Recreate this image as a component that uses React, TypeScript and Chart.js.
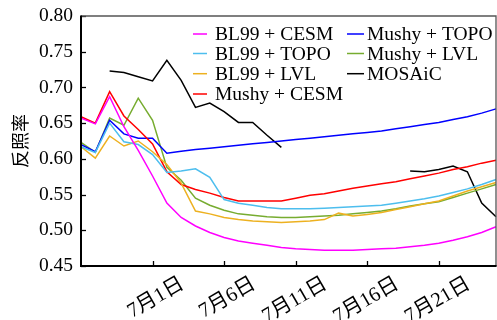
import React, { useEffect, useRef } from "react";
import { Chart, registerables } from "chart.js";

Chart.register(...registerables);

const dates = [
  "6月26日", "6月27日", "6月28日", "6月29日", "6月30日",
  "7月1日", "7月2日", "7月3日", "7月4日", "7月5日",
  "7月6日", "7月7日", "7月8日", "7月9日", "7月10日",
  "7月11日", "7月12日", "7月13日", "7月14日", "7月15日",
  "7月16日", "7月17日", "7月18日", "7月19日", "7月20日",
  "7月21日", "7月22日", "7月23日", "7月24日", "7月25日",
];

const bl99Cesm = [0.657, 0.649, 0.687, 0.645, 0.612, 0.576, 0.538, 0.518, 0.506, 0.497, 0.490, 0.485, 0.482, 0.479, 0.476, 0.474, 0.473, 0.472, 0.472, 0.472, 0.473, 0.474, 0.475, 0.477, 0.479, 0.482, 0.486, 0.491, 0.497, 0.505];
const bl99Topo = [0.617, 0.609, 0.650, 0.624, 0.620, 0.606, 0.581, 0.583, 0.586, 0.574, 0.543, 0.538, 0.535, 0.532, 0.530, 0.530, 0.530, 0.531, 0.532, 0.533, 0.534, 0.535, 0.538, 0.541, 0.544, 0.548, 0.553, 0.558, 0.564, 0.571];
const bl99Lvl = [0.617, 0.601, 0.632, 0.618, 0.625, 0.610, 0.592, 0.566, 0.527, 0.523, 0.518, 0.515, 0.513, 0.512, 0.511, 0.512, 0.513, 0.515, 0.524, 0.520, 0.522, 0.525, 0.529, 0.533, 0.537, 0.541, 0.548, 0.555, 0.561, 0.567];
const mushyCesm = [0.659, 0.650, 0.694, 0.660, 0.641, 0.621, 0.582, 0.564, 0.557, 0.552, 0.546, 0.541, 0.541, 0.541, 0.541, 0.545, 0.549, 0.551, 0.555, 0.559, 0.562, 0.565, 0.568, 0.572, 0.576, 0.580, 0.585, 0.589, 0.594, 0.598];
const mushyTopo = [0.620, 0.610, 0.654, 0.635, 0.629, 0.629, 0.608, 0.6105, 0.613, 0.615, 0.617, 0.619, 0.621, 0.623, 0.625, 0.627, 0.629, 0.631, 0.633, 0.635, 0.637, 0.639, 0.642, 0.645, 0.648, 0.651, 0.655, 0.659, 0.664, 0.670];
const mushyLvl = [0.623, 0.609, 0.657, 0.647, 0.685, 0.654, 0.588, 0.570, 0.545, 0.535, 0.528, 0.523, 0.521, 0.519, 0.518, 0.518, 0.519, 0.520, 0.521, 0.523, 0.525, 0.527, 0.530, 0.534, 0.537, 0.540, 0.546, 0.552, 0.558, 0.564];
const mosaic = [null, null, 0.723, 0.721, 0.715, 0.709, 0.738, 0.710, 0.672, 0.678, 0.666, 0.651, 0.651, 0.633, 0.616, null, null, null, null, null, null, null, null, 0.583, 0.582, 0.585, 0.590, 0.582, 0.538, 0.519];

const seriesNames = ["BL99 + CESM", "BL99 + TOPO", "BL99 + LVL", "Mushy + CESM", "Mushy + TOPO", "Mushy + LVL", "MOSAiC"];
const seriesColors = ["#FF00FF", "#4DBEEE", "#EDB120", "#FF0000", "#0000FF", "#77AC30", "#000000"];
const seriesData = [bl99Cesm, bl99Topo, bl99Lvl, mushyCesm, mushyTopo, mushyLvl, mosaic];

const yTicks = [0.45, 0.5, 0.55, 0.6, 0.65, 0.7, 0.75, 0.8];
const labeledIdx = [5, 10, 15, 20, 25];

const SERIF = "'Liberation Serif', 'Times New Roman', 'Noto Sans CJK SC', serif";

const framePlugin = {
  id: "frameAndLegend",
  afterDraw(chart: any) {
    const { ctx, chartArea: a, scales } = chart;
    ctx.save();
    ctx.strokeStyle = "#000";
    ctx.lineWidth = 1.3;
    const ys = scales.y;
    yTicks.forEach((v) => {
      const py = Math.round(ys.getPixelForValue(v)) + 0.5;
      ctx.beginPath();
      ctx.moveTo(a.left, py);
      ctx.lineTo(a.left + 5, py);
      ctx.stroke();
    });
    const xs = scales.x;
    labeledIdx.forEach((i) => {
      const px = Math.round(xs.getPixelForValue(i)) + 0.5;
      ctx.beginPath();
      ctx.moveTo(px, a.bottom);
      ctx.lineTo(px, a.bottom - 5);
      ctx.stroke();
    });
    ctx.strokeStyle = "#555";
    ctx.lineWidth = 1.3;
    ctx.beginPath();
    ctx.moveTo(a.left, a.top);
    ctx.lineTo(a.right, a.top);
    ctx.lineTo(a.right, a.bottom);
    ctx.stroke();
    ctx.strokeStyle = "#000";
    ctx.lineWidth = 2;
    ctx.beginPath();
    ctx.moveTo(a.left, a.top - 0.6);
    ctx.lineTo(a.left, a.bottom);
    ctx.lineTo(a.right + 0.6, a.bottom);
    ctx.stroke();

    ctx.font = "19.5px " + SERIF;
    ctx.textBaseline = "middle";
    ctx.textAlign = "left";
    const rowY = [18, 37.5, 57.7, 78];
    const cols = [
      { sx: a.right - 303, ex: a.right - 289, tx: a.right - 281 },
      { sx: a.right - 149, ex: a.right - 132, tx: a.right - 129 },
    ];
    seriesNames.forEach((name, k) => {
      const c = cols[k < 4 ? 0 : 1];
      const r = k < 4 ? k : k - 4;
      const y = a.top + rowY[r];
      ctx.strokeStyle = seriesColors[k];
      ctx.lineWidth = 1.5;
      ctx.beginPath();
      ctx.moveTo(c.sx, y);
      ctx.lineTo(c.ex, y);
      ctx.stroke();
      ctx.fillStyle = "#000";
      ctx.fillText(name, c.tx, y + 1);
    });
    ctx.restore();
  },
};

export default function App() {
  const ref = useRef<HTMLCanvasElement>(null);
  useEffect(() => {
    if (!ref.current) return;
    const chart = new Chart(ref.current, {
      type: "line",
      data: {
        labels: dates,
        datasets: seriesNames.map((name, k) => ({
          label: name,
          data: seriesData[k],
          borderColor: seriesColors[k],
          backgroundColor: seriesColors[k],
          borderWidth: 1.5,
          pointRadius: 0,
          tension: 0,
          spanGaps: false,
          fill: false,
        })),
      },
      options: {
        responsive: false,
        animation: false,
        layout: { padding: { left: 0, top: 16, right: 1, bottom: 0 } },
        plugins: { legend: { display: false }, tooltip: { enabled: false } },
        scales: {
          x: {
            type: "category",
            offset: false,
            grid: { display: false, drawTicks: false },
            border: { display: false },
            afterFit: (s: any) => {
              s.height = 54;
              s.paddingLeft = 0;
              s.paddingRight = 0;
            },
            ticks: {
              autoSkip: false,
              minRotation: 30,
              maxRotation: 30,
              padding: 6,
              labelOffset: 30,
              color: "#000",
              font: { family: SERIF, size: 20.5 },
              callback: (_v: any, i: number) => (labeledIdx.includes(i) ? dates[i] : ""),
            },
          },
          y: {
            min: 0.45,
            max: 0.8,
            grid: { display: false, drawTicks: false },
            border: { display: false },
            afterFit: (s: any) => {
              s.width = 81;
              s.paddingTop = 0;
              s.paddingBottom = 0;
            },
            afterBuildTicks: (s: any) => { s.ticks = yTicks.map((v) => ({ value: v })); },
            ticks: {
              padding: 8,
              color: "#000",
              font: { family: SERIF, size: 19.5 },
              callback: (v: any) => Number(v).toFixed(2),
            },
            title: {
              display: true,
              text: "反照率",
              color: "#000",
              padding: { top: 9, bottom: 0 },
              font: { family: "'Noto Sans CJK SC', sans-serif", size: 18 },
            },
          },
        },
      },
      plugins: [framePlugin],
    });
    return () => chart.destroy();
  }, []);
  return (
    <div style={{ position: "absolute", left: 0, top: 0, width: 497, height: 320, background: "#fff" }}>
      <canvas ref={ref} width={497} height={320} style={{ display: "block" }} />
    </div>
  );
}
